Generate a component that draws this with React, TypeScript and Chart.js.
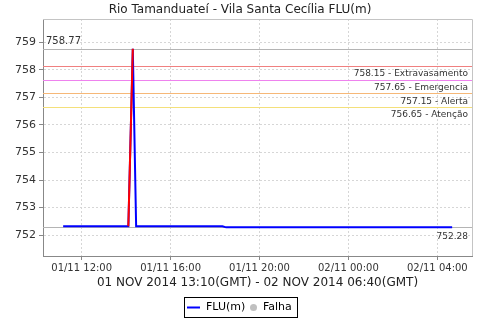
import React, { useEffect, useRef } from "react";
import { Chart, registerables } from "chart.js";

Chart.register(...registerables);

// Time in hours since 01/11 00:00 (local chart time)
const timeHours = [11.1667, 14.1, 14.3, 14.45, 18.33, 18.5, 28.6667];
const fluValues = [752.32, 752.32, 758.77, 752.32, 752.32, 752.28, 752.28];

// Rising segment drawn in red
const riseHours = [14.1, 14.3];
const riseValues = [752.32, 758.77];

const maxValue = 758.77;
const lastValue = 752.28;

const thresholdValues = [758.15, 757.65, 757.15, 756.65];
const thresholdNames = ["Extravasamento", "Emergencia", "Alerta", "Atenção"];
const thresholdColors = ["#f08080", "#ee82ee", "#f6b878", "#f4e07a"];

const xMin = 10.26;
const xMax = 29.56;
const yMin = 751.24;
const yMax = 759.85;
const xTickValues = [12, 16, 20, 24, 28];

const titleText = "Rio Tamanduateí - Vila Santa Cecília FLU(m)";
const xAxisTitle = "01 NOV 2014 13:10(GMT) - 02 NOV 2014 06:40(GMT)";
const legendLabels = ["FLU(m)", "Falha"];

const FONT = "'DejaVu Sans', sans-serif";

function fmtHour(h: number): string {
  const day = h >= 24 ? "02/11" : "01/11";
  const hh = Math.floor(h % 24);
  return `${day} ${String(hh).padStart(2, "0")}:00`;
}

const decorPlugin = {
  id: "decor",
  beforeDatasetsDraw(chart: any) {
    const { ctx, chartArea, scales } = chart;
    const ys = scales.y;
    ctx.save();
    ctx.lineWidth = 1;
    const hLine = (v: number, color: string) => {
      const y = Math.round(ys.getPixelForValue(v)) + 0.5;
      ctx.strokeStyle = color;
      ctx.beginPath();
      ctx.moveTo(chartArea.left, y);
      ctx.lineTo(chartArea.right, y);
      ctx.stroke();
    };
    hLine(maxValue, "#b4b4b4");
    hLine(lastValue, "#b4b4b4");
    thresholdValues.forEach((v, i) => hLine(v, thresholdColors[i]));
    ctx.restore();
  },
  afterDatasetsDraw(chart: any) {
    const { ctx, chartArea, scales } = chart;
    const ys = scales.y;
    ctx.save();
    // plot outline top & right
    ctx.strokeStyle = "#c4c4c4";
    ctx.lineWidth = 1;
    ctx.beginPath();
    ctx.moveTo(chartArea.left, chartArea.top + 0.5);
    ctx.lineTo(chartArea.right + 0.5, chartArea.top + 0.5);
    ctx.lineTo(chartArea.right + 0.5, chartArea.bottom);
    ctx.stroke();

    // annotation labels
    ctx.fillStyle = "#333";
    ctx.font = `9px ${FONT}`;
    ctx.textBaseline = "middle";
    ctx.textAlign = "right";
    thresholdValues.forEach((v, i) => {
      const y = ys.getPixelForValue(v);
      ctx.fillText(`${v.toFixed(2)} - ${thresholdNames[i]}`, chartArea.right - 4, y + 8);
    });
    ctx.fillText(lastValue.toFixed(2), chartArea.right - 4, ys.getPixelForValue(lastValue) + 9);
    ctx.textAlign = "left";
    ctx.font = `10px ${FONT}`;
    ctx.fillText(maxValue.toFixed(2), chartArea.left + 3, ys.getPixelForValue(maxValue) - 7);

    // title
    ctx.fillStyle = "#222";
    ctx.textAlign = "center";
    ctx.font = `12px ${FONT}`;
    ctx.fillText(titleText, 240, 10);

    // x axis title
    ctx.font = `12px ${FONT}`;
    ctx.fillText(xAxisTitle, (chartArea.left + chartArea.right) / 2, 283);

    // legend
    const boxL = 184, boxT = 297, boxR = 297, boxB = 317;
    ctx.strokeStyle = "#000";
    ctx.lineWidth = 1;
    ctx.strokeRect(boxL + 0.5, boxT + 0.5, boxR - boxL, boxB - boxT);
    const cy = (boxT + boxB) / 2 + 0.5;
    ctx.strokeStyle = "#0000ff";
    ctx.lineWidth = 2;
    ctx.beginPath();
    ctx.moveTo(187, cy);
    ctx.lineTo(200, cy);
    ctx.stroke();
    ctx.fillStyle = "#000";
    ctx.textAlign = "left";
    ctx.font = `11px ${FONT}`;
    ctx.fillText(legendLabels[0], 206, cy);
    ctx.fillStyle = "#c0c0c0";
    ctx.beginPath();
    ctx.arc(253.5, cy, 3.5, 0, Math.PI * 2);
    ctx.fill();
    ctx.fillStyle = "#000";
    ctx.fillText(legendLabels[1], 263, cy);
    ctx.restore();
  },
};

export default function App() {
  const ref = useRef<HTMLCanvasElement | null>(null);
  useEffect(() => {
    if (!ref.current) return;
    const datasets: any[] = [
      {
        label: "rise",
        data: riseHours.map((x, i) => ({ x, y: riseValues[i] })),
        borderColor: "#ff0000",
        borderWidth: 2,
        pointRadius: 0,
        order: 0,
      },
      {
        label: legendLabels[0],
        data: timeHours.map((x, i) => ({ x, y: fluValues[i] })),
        borderColor: "#0000ff",
        borderWidth: 2,
        pointRadius: 0,
        order: 1,
      },
    ];
    const chart = new Chart(ref.current, {
      type: "line",
      data: { datasets },
      options: {
        animation: false,
        responsive: false,
        devicePixelRatio: 1,
        layout: { padding: { top: 19, right: 8, left: 0, bottom: 0 } },
        plugins: { legend: { display: false }, tooltip: { enabled: false }, title: { display: false } },
        scales: {
          x: {
            type: "linear",
            min: xMin,
            max: xMax,
            afterFit: (s: any) => {
              s.height = 64;
            },
            afterBuildTicks: (s: any) => {
              s.ticks = xTickValues.map((v) => ({ value: v }));
            },
            ticks: {
              callback: (v: any) => fmtHour(Number(v)),
              font: { family: FONT, size: 10 },
              color: "#333",
              padding: 2,
              maxRotation: 0,
              autoSkip: false,
            },
            grid: { color: "#d6d6d6", tickLength: 4, tickColor: "#888" },
            border: { color: "#888", dash: [2, 2] },
          },
          y: {
            type: "linear",
            min: yMin,
            max: yMax,
            afterFit: (s: any) => {
              s.width = 43;
            },
            ticks: {
              stepSize: 1,
              includeBounds: false,
              font: { family: FONT, size: 11 },
              color: "#333",
              padding: 3,
            },
            grid: { color: "#d6d6d6", tickLength: 4, tickColor: "#888" },
            border: { color: "#888", dash: [2, 2] },
          },
        },
      },
      plugins: [decorPlugin],
    });
    return () => chart.destroy();
  }, []);
  return (
    <div style={{ position: "absolute", left: 0, top: 0, width: 480, height: 320, background: "#fff" }}>
      <canvas ref={ref} width={480} height={320} style={{ display: "block" }} />
    </div>
  );
}
